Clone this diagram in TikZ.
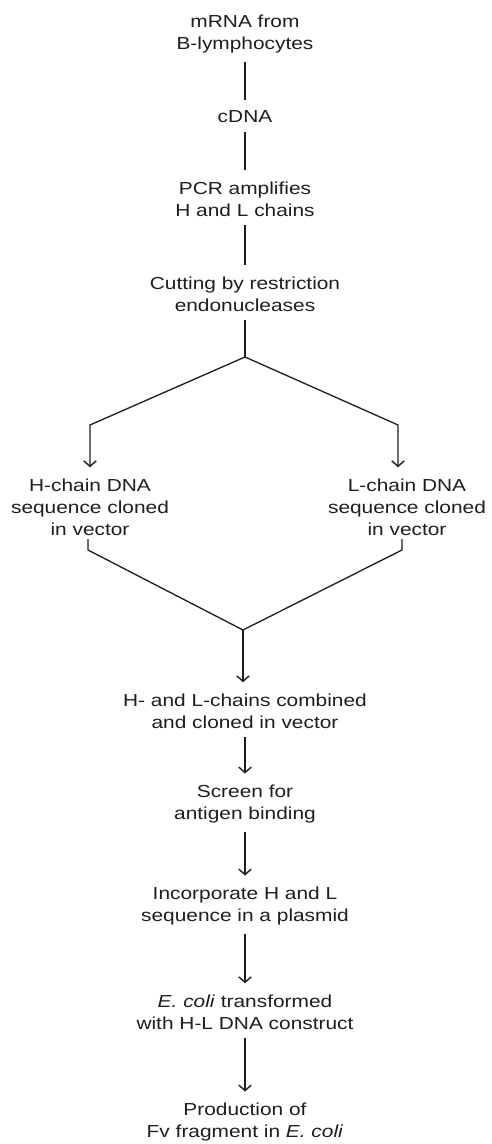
\documentclass[tikz,border=0pt]{standalone}
\usepackage{fontspec}
\setmainfont{Liberation Sans}[FakeStretch=1.2]
\usetikzlibrary{arrows.meta,positioning,calc}
\definecolor{inkgrey}{HTML}{1E1E1E}
\tikzset{
  >={Straight Barb[length=1.1mm,width=2.5mm,line width=0.8pt]},
  % stages of the cloning route
  stage/.style={align=center,inner sep=2pt,text=inkgrey,
                font=\fontsize{9.9}{12.5}\selectfont},
  link/.style={draw=inkgrey,line width=0.75pt,shorten >=1.5mm,shorten <=1mm},
  flow/.style={link,->},
  bare/.style={draw=inkgrey,line width=0.75pt},
}

\begin{document}
\begin{tikzpicture}
  \useasboundingbox[fill=white] (0,0) rectangle (9.84,22.88);
  \node[stage] (mrna)   at (4.90,22.20) {mRNA from\\B-lymphocytes};
  \node[stage] (cdna)   at (4.90,20.54) {cDNA};
  \node[stage] (pcr)    at (4.90,18.90) {PCR amplifies\\H and L chains};
  \node[stage] (cut)    at (4.90,17.00) {Cutting by restriction\\endonucleases};
  \node[stage] (hchain) at (1.80,12.74) {H-chain DNA\\sequence cloned\\in vector};
  \node[stage] (lchain) at (8.14,12.74) {L-chain DNA\\sequence cloned\\in vector};
  \node[stage] (comb)   at (4.90,8.66)  {H- and L-chains combined\\and cloned in vector};
  \node[stage] (screen) at (4.90,6.80)  {Screen for\\antigen binding};
  \node[stage] (incorp) at (4.90,4.76)  {Incorporate H and L\\sequence in a plasmid};
  \node[stage] (ecoli)  at (4.90,2.64)  {\textit{E. coli} transformed\\with H-L DNA construct};
  \node[stage] (prod)   at (4.90,0.44)  {Production of\\Fv fragment in \textit{E. coli}};

  % branch and merge points
  \coordinate (split) at (4.90,15.74);
  \coordinate (hbend) at (1.80,14.38);
  \coordinate (lbend) at (7.96,14.38);
  \coordinate (hfoot) at (1.76,11.88);
  \coordinate (lfoot) at (8.04,11.88);
  \coordinate (join)  at (4.86,10.28);

  \draw[link] (mrna) -- (cdna);
  \draw[link] (cdna) -- (pcr);
  \draw[link] (pcr) -- (cut);
  \draw[link,shorten >=0pt] (cut) -- (split);
  \draw[flow,shorten <=0pt] (split) -- (hbend) -- (hbend |- hchain.north);
  \draw[flow,shorten <=0pt] (split) -- (lbend) -- (lbend |- lchain.north);
  \draw[bare] (hfoot |- hchain.south) -- (hfoot) -- (join);
  \draw[bare] (lfoot |- lchain.south) -- (lfoot) -- (join);
  \draw[flow,shorten <=0pt] (join) -- (join |- comb.north);
  \draw[flow] (comb) -- (screen);
  \draw[flow] (screen) -- (incorp);
  \draw[flow] (incorp) -- (ecoli);
  \draw[flow] (ecoli) -- (prod);
\end{tikzpicture}
\end{document}
